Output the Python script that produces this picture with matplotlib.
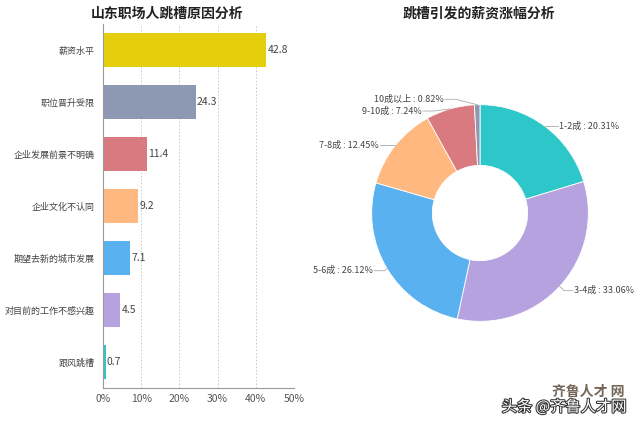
import matplotlib
matplotlib.use("Agg")
import matplotlib.pyplot as plt
import matplotlib.patheffects as pe
import numpy as np

plt.rcParams['font.family'] = ['Noto Sans CJK SC', 'DejaVu Sans']

# 左图: 跳槽原因
reasons = ["薪资水平", "职位晋升受限", "企业发展前景不明确", "企业文化不认同",
           "期望去新的城市发展", "对目前的工作不感兴趣", "跟风跳槽"]
reason_values = [42.8, 24.3, 11.4, 9.2, 7.1, 4.5, 0.7]
bar_colors = ["#e5cf0d", "#8d98b3", "#d87a80", "#ffb980", "#5ab1ef", "#b6a2de", "#2ec7c9"]
x_ticks = [0, 10, 20, 30, 40, 50]

# 右图: 薪资涨幅
raise_labels = ["1-2成", "3-4成", "5-6成", "7-8成", "9-10成", "10成以上"]
raise_values = [20.31, 33.06, 26.12, 12.45, 7.24, 0.82]
pie_colors = ["#2ec7c9", "#b6a2de", "#5ab1ef", "#ffb980", "#d87a80", "#8d98b3"]

fig = plt.figure(figsize=(6.4, 4.28), dpi=100)

# ---- 条形图 ----
ax = fig.add_axes([103 / 640, 1 - 388 / 428, 191 / 640, 364 / 428])
y = np.arange(len(reasons))
ax.barh(y, reason_values, height=0.66, color=bar_colors)
for yi, v in zip(y, reason_values):
    ax.text(v + 0.3, yi, f"{v}", va="center", ha="left", fontsize=7.5, color="#444444")
ax.set_yticks(y)
ax.set_yticklabels(reasons, fontsize=6.5, color="#444444")
ax.set_ylim(len(reasons) - 0.5, -0.5)
ax.set_xlim(0, 50)
ax.set_xticks(x_ticks)
ax.set_xticklabels([f"{t}%" for t in x_ticks], fontsize=7.5, color="#555555")
ax.grid(axis="x", linestyle=(0, (1.5, 2)), color="#c8c8c8", linewidth=0.7)
ax.set_axisbelow(True)
for s in ["top", "right"]:
    ax.spines[s].set_visible(False)
ax.spines["left"].set_color("#999999")
ax.spines["bottom"].set_color("#999999")
ax.tick_params(axis="y", length=0, pad=6)
ax.tick_params(axis="x", length=0, pad=4)
fig.text(167 / 640, 1 - 14 / 428, "山东职场人跳槽原因分析", ha="center", va="center",
         fontsize=10, fontweight="bold", color="#222222")

# ---- 环形图 ----
R = 130
pax = fig.add_axes([(480 - R) / 640, 1 - (213 + R) / 428, 2 * R / 640, 2 * R / 428])
wedges, _ = pax.pie(raise_values, colors=pie_colors, startangle=90, counterclock=False,
                    radius=1.0, wedgeprops=dict(width=0.56, edgecolor="white", linewidth=0.6))
pax.set_xlim(-1.2, 1.2)
pax.set_ylim(-1.2, 1.2)
pax.set_aspect("equal")
pax.axis("off")

# 标签偏移 (elbow dx, dy, text dx) in axis units
label_offsets = [(0.04, 0.0, 0.08), (0.04, -0.04, 0.08), (-0.02, -0.02, -0.1),
                 (-0.04, 0.0, -0.1), (-0.15, -0.02, -0.1), (-0.2, 0.05, -0.1)]
for w, name, v, off in zip(wedges, raise_labels, raise_values, label_offsets):
    ang = np.deg2rad((w.theta1 + w.theta2) / 2)
    x0, y0 = np.cos(ang), np.sin(ang)
    x1, y1 = x0 + off[0], y0 + off[1]
    x2 = x1 + off[2]
    pax.plot([x0, x1, x2], [y0, y1, y1], color="#aaaaaa", linewidth=0.6, clip_on=False)
    ha = "left" if off[2] > 0 else "right"
    pax.text(x2 + (0.01 if ha == "left" else -0.01), y1, f"{name} : {v:.2f}%",
             ha=ha, va="center", fontsize=6.5, color="#444444", clip_on=False)

fig.text(479 / 640, 1 - 14 / 428, "跳槽引发的薪资涨幅分析", ha="center", va="center",
         fontsize=10, fontweight="bold", color="#222222")

# 水印
fig.text(588 / 640, 1 - 392 / 428, "齐鲁人才 网", ha="center", va="center",
         fontsize=10, fontweight="bold", color="#5a4a3a", alpha=0.85)
fig.text(564 / 640, 1 - 407 / 428, "头条 @齐鲁人才网", ha="center", va="center",
         fontsize=11, color="white",
         path_effects=[pe.withStroke(linewidth=1.5, foreground="#333333")])

fig.savefig("out.png", dpi=100)
